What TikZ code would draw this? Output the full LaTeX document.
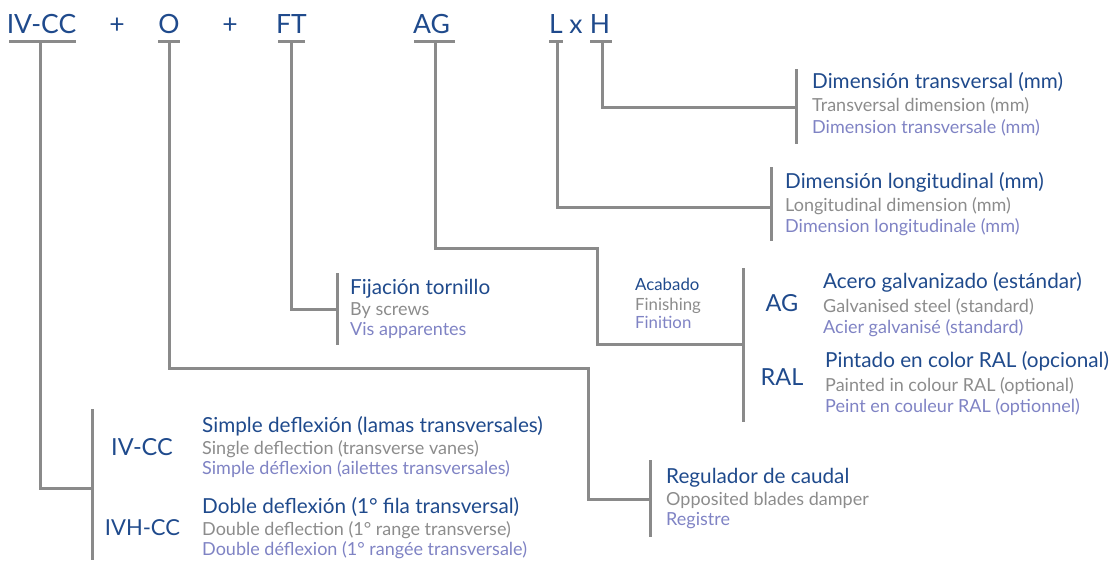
\documentclass[tikz,border=0pt]{standalone}
\usepackage{fontspec}
\setmainfont{Lato}
\definecolor{codeblue}{HTML}{1F4A8C}
\definecolor{engray}{HTML}{8C8C8C}
\definecolor{frpurple}{HTML}{7F83C4}
\definecolor{linegray}{HTML}{8A8A8A}
\tikzset{
  wire/.style = {draw=linegray, line width=3pt},
  topcode/.style = {anchor=base, inner sep=0pt, text=codeblue,
                    font=\fontsize{26.5}{26.5}\selectfont},
  subcode/.style = {anchor=base, inner sep=0pt, text=codeblue,
                    font=\fontsize{23.5}{23.5}\selectfont},
  esline/.style = {anchor=base west, inner sep=0pt, text=codeblue,
                   font=\fontsize{20.7}{20.7}\selectfont},
  enline/.style = {anchor=base west, inner sep=0pt, text=engray,
                   font=\fontsize{18}{18}\selectfont},
  frline/.style = {anchor=base west, inner sep=0pt, text=frpurple,
                   font=\fontsize{18}{18}\selectfont},
  smallline/.style = {anchor=base west, inner sep=0pt,
                      font=\fontsize{16.8}{16.8}\selectfont}
}

\begin{document}
\begin{tikzpicture}[x=1pt,y=-1pt]
	\def \top{33}  % baseline of the code
	\def \ubar{41} % underline of the code
	\useasboundingbox (0,0) rectangle (1119,560);

	% Code
	\node[topcode] (ivcc)  at (41.5,\top) {IV-CC};
	\node[topcode] (plusa) at (117,\top)  {+};
	\node[topcode] (o)     at (169,\top)  {O};
	\node[topcode] (plusb) at (230,\top)  {+};
	\node[topcode] (ft)    at (291.5,\top) {FT};
	\node[topcode] (ag)    at (431.5,\top) {AG};
	\node[topcode] (l)     at (556,\top)  {L};
	\node[topcode] (times) at (576,\top)  {x};
	\node[topcode] (h)     at (600,\top)  {H};

	% Underlines
	\draw[wire] (9,\ubar)   -- (76,\ubar);   % IV-CC
	\draw[wire] (158,\ubar) -- (180,\ubar);  % O
	\draw[wire] (278,\ubar) -- (305,\ubar);  % FT
	\draw[wire] (414,\ubar) -- (455,\ubar);  % AG
	\draw[wire] (549,\ubar) -- (563,\ubar);  % L
	\draw[wire] (590,\ubar) -- (612,\ubar);  % H
	\coordinate (ivccbar) at (40,\ubar);
	\coordinate (obar)    at (169,\ubar);
	\coordinate (ftbar)   at (291,\ubar);
	\coordinate (agbar)   at (435,\ubar);
	\coordinate (lbar)    at (557,\ubar);
	\coordinate (hbar)    at (602,\ubar);

	% H : transversal dimension
	\draw[wire] (796,69) -- (796,144);
	\coordinate (dimt) at (796,107);
	\draw[wire] (hbar) |- (dimt);
	\node[esline] (dimt-es) at (812,88)  {Dimensión transversal (mm)};
	\node[enline] (dimt-en) at (812,111) {Transversal dimension (mm)};
	\node[frline] (dimt-fr) at (812,133) {Dimension transversale (mm)};

	% L : longitudinal dimension
	\draw[wire] (771,167) -- (771,241);
	\coordinate (diml) at (771,207);
	\draw[wire] (lbar) |- (diml);
	\node[esline] (diml-es) at (785,188) {Dimensión longitudinal (mm)};
	\node[enline] (diml-en) at (785,211) {Longitudinal dimension (mm)};
	\node[frline] (diml-fr) at (785,232) {Dimension longitudinale (mm)};

	% AG : finishing
	\draw[wire] (743,268) -- (743,422);
	\coordinate (acab) at (743,344);
	\draw[wire] (agbar) |- (597,248) |- (acab);
	\node[smallline, text=codeblue] (acab-es) at (635,290) {Acabado};
	\node[smallline, text=engray]   (acab-en) at (635,310) {Finishing};
	\node[smallline, text=frpurple] (acab-fr) at (635,328) {Finition};
	\node[subcode] (agcode)  at (782,311) {AG};
	\node[esline] (agst-es) at (823,288) {Acero galvanizado (estándar)};
	\node[enline] (agst-en) at (823,312) {Galvanised steel (standard)};
	\node[frline] (agst-fr) at (823,333) {Acier galvanisé (standard)};
	\node[subcode] (ralcode) at (782,385) {RAL};
	\node[esline] (ral-es) at (825,367) {Pintado en color RAL (opcional)};
	\node[enline] (ral-en) at (825,391) {Painted in colour RAL (optional)};
	\node[frline] (ral-fr) at (825,412) {Peint en couleur RAL (optionnel)};

	% FT : fixing
	\draw[wire] (337,273) -- (337,345);
	\coordinate (fix) at (337,309);
	\draw[wire] (ftbar) |- (fix);
	\node[esline] (fix-es) at (350,294) {Fijación tornillo};
	\node[enline] (fix-en) at (350,315) {By screws};
	\node[frline] (fix-fr) at (350,335) {Vis apparentes};

	% O : damper
	\draw[wire] (650,460) -- (650,537);
	\coordinate (regu) at (650,499);
	\draw[wire] (obar) |- (588,368) |- (regu);
	\node[esline] (regu-es) at (666,483) {Regulador de caudal};
	\node[enline] (regu-en) at (666,505) {Opposited blades damper};
	\node[frline] (regu-fr) at (666,525) {Registre};

	% IV-CC : deflection
	\draw[wire] (92,409) -- (92,560);
	\coordinate (defl) at (92,488);
	\draw[wire] (ivccbar) |- (defl);
	\node[subcode] (simple) at (142,455) {IV-CC};
	\node[esline] (simple-es) at (202,432) {Simple deflexión (lamas transversales)};
	\node[enline] (simple-en) at (202,454) {Single deflection (transverse vanes)};
	\node[frline] (simple-fr) at (202,474) {Simple déflexion (ailettes transversales)};
	\node[subcode, font=\fontsize{22}{22}\selectfont] (double) at (142.5,535) {IVH-CC};
	\node[esline] (double-es) at (202,513) {Doble deflexión (1° fila transversal)};
	\node[enline] (double-en) at (202,535) {Double deflection (1° range transverse)};
	\node[frline] (double-fr) at (202,555) {Double déflexion (1° rangée transversale)};

\end{tikzpicture}
\end{document}
